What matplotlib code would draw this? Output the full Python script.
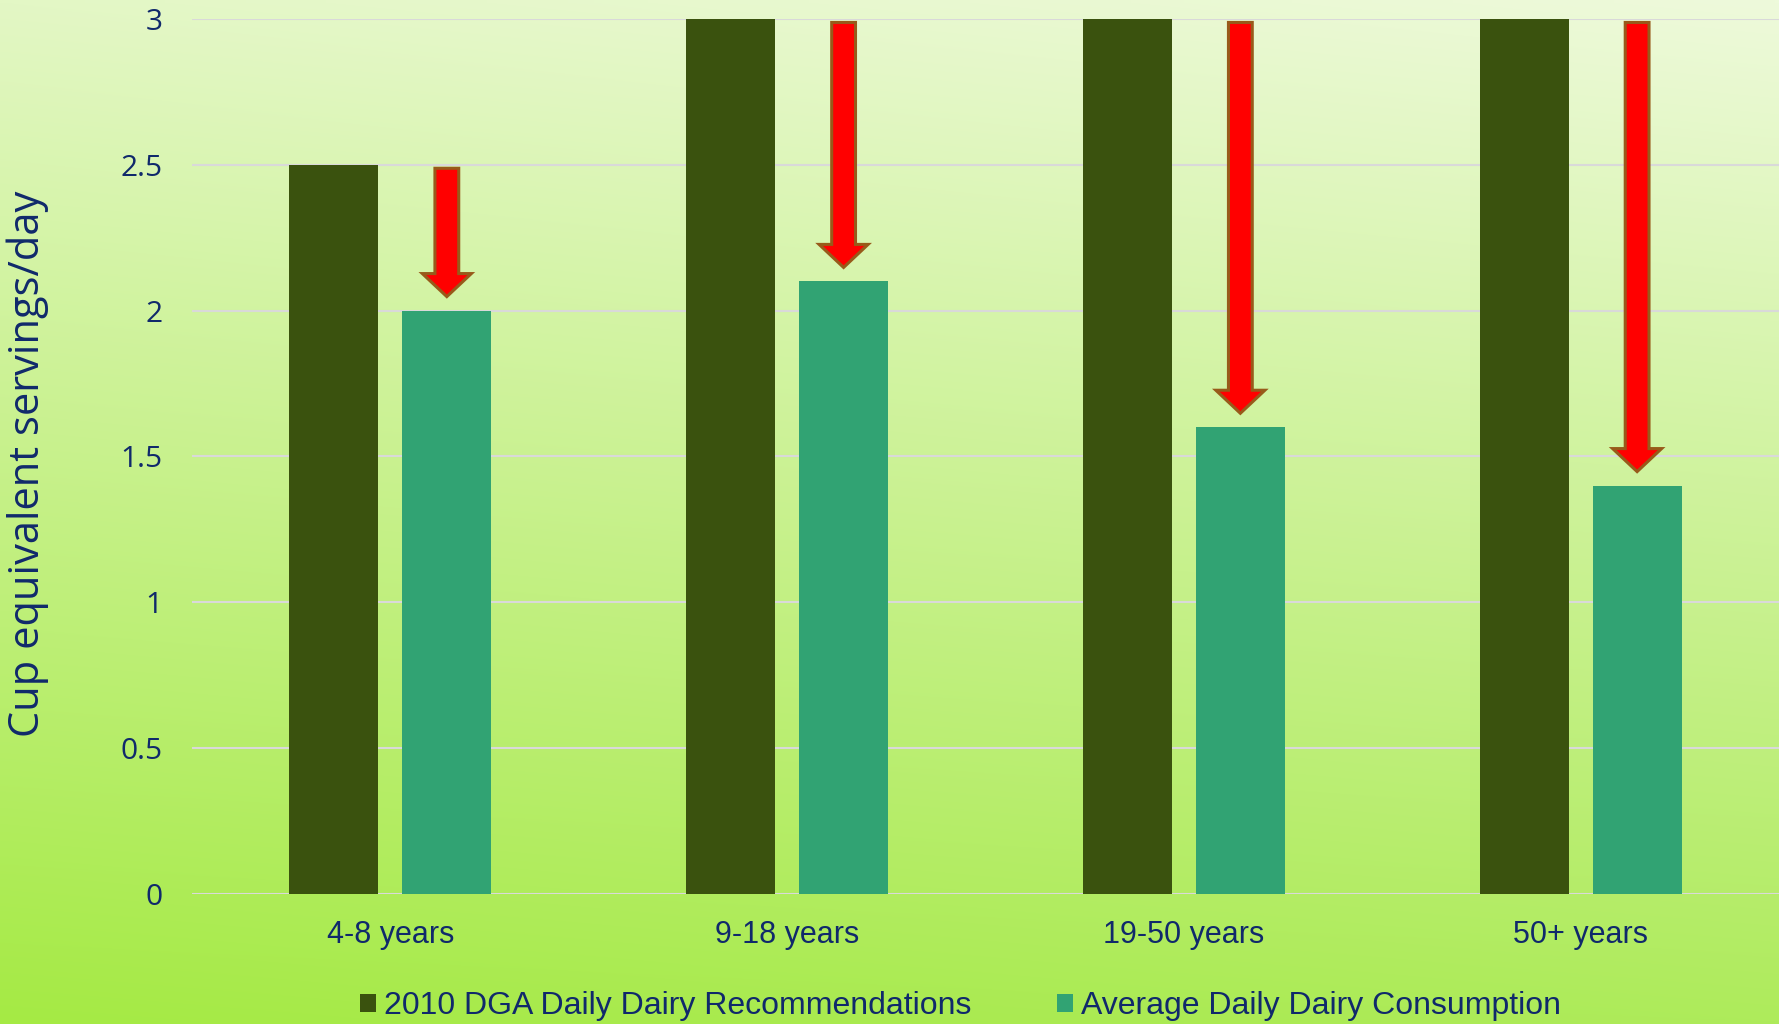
import numpy as np
import matplotlib
matplotlib.use("Agg")
import matplotlib.pyplot as plt
from matplotlib.patches import Patch

# Data
categories = ["4-8 years", "9-18 years", "19-50 years", "50+ years"]
recommended = [2.5, 3.0, 3.0, 3.0]
consumption = [2.0, 2.1, 1.6, 1.4]
series_names = ["2010 DGA Daily Dairy Recommendations", "Average Daily Dairy Consumption"]
y_ticks = [0, 0.5, 1, 1.5, 2, 2.5, 3]
y_tick_labels = ["0", "0.5", "1", "1.5", "2", "2.5", "3"]
y_label = "Cup equivalent servings/day"

# Styling
DARK = "#3A520E"
TEAL = "#31A373"
TEXT = "#10296B"
GRID = "#D9D9D9"
ARROW_FILL = "#FF0000"
ARROW_EDGE = "#985A1A"

fig = plt.figure(figsize=(17.79, 10.24), dpi=100)

# Soft green gradient background across the whole figure
bg = fig.add_axes([0, 0, 1, 1], zorder=-10)
tl = np.array([0xE3, 0xF7, 0xC5]) / 255
tr = np.array([0xEE, 0xFA, 0xDB]) / 255
bl = np.array([0xA5, 0xEA, 0x44]) / 255
br = np.array([0xAE, 0xEB, 0x5B]) / 255
ny, nx = 200, 200
u = np.linspace(0, 1, nx)[None, :, None]
v = np.linspace(0, 1, ny)[:, None, None]
top = tl * (1 - u) + tr * u
bot = bl * (1 - u) + br * u
grad = top * (1 - v) + bot * v
bg.imshow(grad, aspect="auto", extent=[0, 1, 0, 1], interpolation="bilinear")
bg.set_axis_off()

ax = fig.add_axes([0.1079, 0.1270, 0.8921, 0.8545])
ax.set_facecolor("none")

x = np.arange(len(categories))
bar_w = 0.2243
offset = 0.1424
ax.bar(x - offset, recommended, width=bar_w, color=DARK, zorder=3, label=series_names[0])
ax.bar(x + offset, consumption, width=bar_w, color=TEAL, zorder=3, label=series_names[1])

# Downward arrows from each recommendation to the actual consumption
for xi, r, c in zip(x, recommended, consumption):
    start = r - 0.012
    end = c + 0.048
    ax.arrow(xi + offset, start, 0, end - start, width=0.060, head_width=0.1235,
             head_length=0.079, length_includes_head=True, facecolor=ARROW_FILL,
             edgecolor=ARROW_EDGE, linewidth=2.2, joinstyle="miter", zorder=4)

ax.set_xlim(-0.5, len(categories) - 0.5)
ax.set_ylim(0, 3)
ax.set_yticks(y_ticks)
ax.set_yticklabels(y_tick_labels, family="Open Sans", fontsize=21.5, color=TEXT)
ax.set_xticks(x)
ax.set_xticklabels(categories, family="Liberation Sans", fontsize=22, color=TEXT)
ax.tick_params(axis="y", length=0, pad=21)
ax.tick_params(axis="x", length=0, pad=18.5)
for s in ax.spines.values():
    s.set_visible(False)
ax.yaxis.grid(True, color=GRID, linewidth=1.5, zorder=0)
ax.set_axisbelow(True)

fig.text(0.0157, 0.547, y_label, rotation=90, ha="center", va="center",
         family="Open Sans", fontsize=30, color=TEXT)

handles = [Patch(facecolor=DARK), Patch(facecolor=TEAL)]
fig.legend(handles, series_names, loc="center", bbox_to_anchor=(0.54, 0.0172),
           ncol=2, frameon=False, prop={"family": "Liberation Sans", "size": 23},
           labelcolor=TEXT, handlelength=0.5, handleheight=0.5,
           handletextpad=0.25, columnspacing=2.7)

fig.savefig("out.png", dpi=100)
